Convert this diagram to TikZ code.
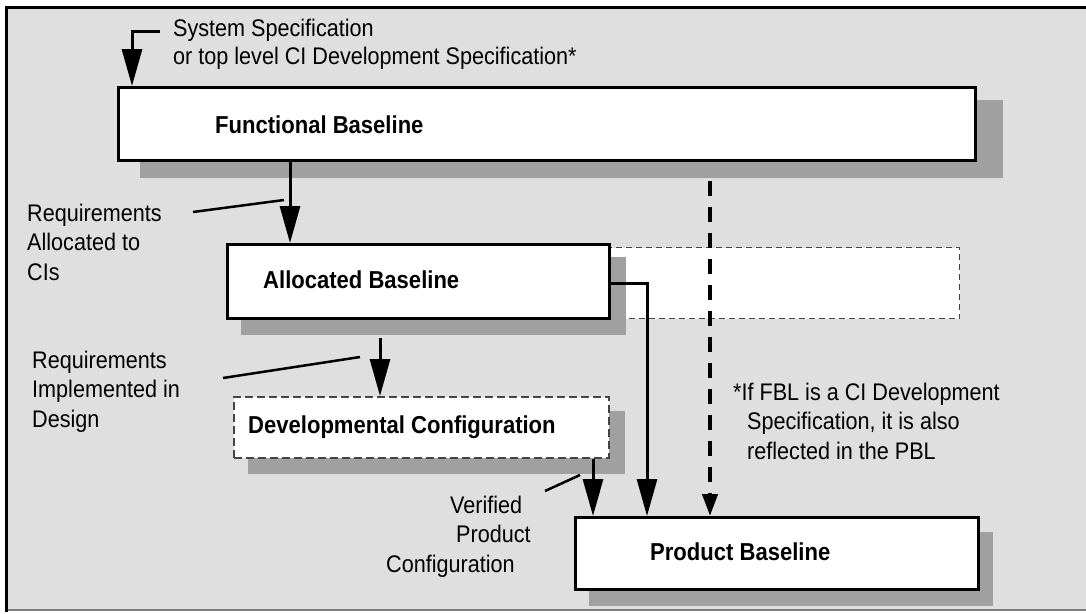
\documentclass[tikz,border=0pt]{standalone}
\usepackage{fontspec}
\setmainfont{Liberation Sans}[FakeStretch=0.9]
\usetikzlibrary{arrows.meta}
\usetikzlibrary{calc}
\usetikzlibrary{positioning}
\definecolor{panelgray}{HTML}{DFDFDF}
\definecolor{shadowgray}{HTML}{A0A0A0}
\definecolor{dashgray}{HTML}{444444}
\newcommand\notefont{\fontsize{24}{29.5}\selectfont}
\newcommand\boxfont{\fontsize{24.5}{29.5}\selectfont\bfseries}
\tikzset{
  basebox/.style={draw=black, line width=3pt, fill=white, inner sep=0pt, anchor=north west},
  devbox/.style={draw=dashgray, line width=1.5pt, dash pattern=on 8pt off 4pt, fill=white, inner sep=0pt, anchor=north west},
  spanbox/.style={draw=dashgray, line width=1.2pt, dash pattern=on 6pt off 4pt, fill=white, inner sep=0pt, anchor=north west},
  boxtext/.style={font=\boxfont, inner sep=0pt, anchor=base west},
  note/.style={font=\notefont, align=left, inner sep=0pt, anchor=base west},
  flow/.style={line width=3pt, -{Triangle[length=37pt,width=20pt]}},
  fbllink/.style={line width=4pt, dash pattern=on 15pt off 11pt, -{Triangle[length=22pt,width=15pt]}},
  leader/.style={line width=2.5pt},
  dropshadow/.style={fill=shadowgray}
}

\begin{document}
\begin{tikzpicture}[x=1pt,y=-1pt]
    \useasboundingbox (0,0) rectangle (1086,613);
    % panel
    \fill[panelgray] (7,8) rectangle (1086,610);
    \draw[black, line width=3pt] (6.5,612) -- (6.5,7.5) -- (1086,7.5);
    \draw[gray, line width=1.5pt] (8,610) -- (1086,610);

    % shadows
    \fill[dropshadow] (140,100) rectangle (1003,178);
    \node[spanbox, minimum width=351pt, minimum height=71pt] (ablspan) at (608,247) {};
    \fill[dropshadow] (241,257) rectangle (626,335);
    \fill[dropshadow] (248,411) rectangle (625,474);
    \fill[dropshadow] (589,532) rectangle (993,606);

    % baselines
    \node[basebox, minimum width=857pt, minimum height=73pt] (fbl) at (117,86) {};
    \node[basebox, minimum width=382pt, minimum height=74pt] (abl) at (226,243) {};
    \node[devbox, minimum width=375pt, minimum height=61pt] (dc) at (233,396) {};
    \node[basebox, minimum width=403pt, minimum height=72pt] (pbl) at (574,516) {};

    \node[boxtext] (fbltxt) at (215,133) {Functional Baseline};
    \node[boxtext] (abltxt) at (263,288) {Allocated Baseline};
    \node[boxtext] (dctxt) at (248,433) {Developmental Configuration};
    \node[boxtext] (pbltxt) at (650,560) {Product Baseline};

    % connectors
    \coordinate (sysin) at (160,31);
    \draw[flow] (sysin) -| ($(fbl.north west)+(15,0)$);
    \draw[flow] ($(fbl.south west)+(173,0)$) -- ($(abl.north west)+(64,0)$);
    \draw[flow] ($(abl.south west)+(154,18)$) -- ($(dc.north west)+(147,0)$);
    \draw[flow] ($(dc.south west)+(360,0)$) -- ($(pbl.north west)+(19,0)$);
    \draw[flow] ($(abl.east)+(0,2)$) -| ($(pbl.north west)+(73,0)$);
    \draw[fbllink] ($(fbl.south west)+(593,19)$) -- ($(pbl.north west)+(136,0)$);

    % labels (anchored on the last line)
    \node[note] (systxt) at (173,64) {System Specification\\[-1.5pt]or top level CI Development Specification*};
    \node[note] (alloctxt) at (27,280) {Requirements\\Allocated to\\CIs};
    \node[note] (impltxt) at (32,427) {Requirements\\Implemented in\\Design};
    \node[note] (vertxt) at (386,572) {\hspace*{64pt}Verified\\\hspace*{70pt}Product\\Configuration};
    \node[note] (fbltxtnote) at (733,459) {*If FBL is a CI Development\\\hspace*{14pt}Specification, it is also\\\hspace*{14pt}reflected in the PBL};

    \coordinate (allocA) at (193,212);
    \coordinate (allocB) at (284,200);
    \coordinate (implA) at (223,378);
    \coordinate (implB) at (360,357);
    \coordinate (verA) at (545,491);
    \coordinate (verB) at (580,475);
    \draw[leader] (allocA) -- (allocB);
    \draw[leader] (implA) -- (implB);
    \draw[leader] (verA) -- (verB);
\end{tikzpicture}
\end{document}
